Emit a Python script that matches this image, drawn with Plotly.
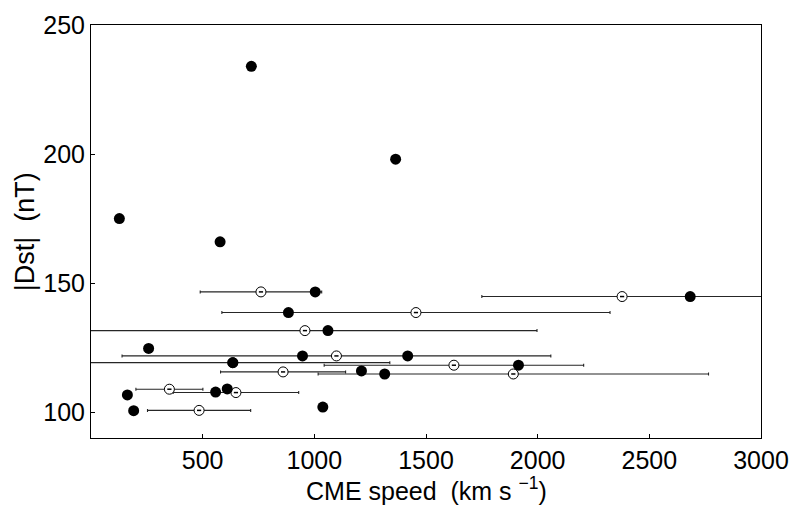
import plotly.graph_objects as go

# Filled points: observed CME speed vs |Dst|
filled_speed = [718, 1364, 127, 578, 1004, 884, 1061, 258, 947, 1418,
                635, 1914, 1211, 1315, 2683, 163, 558, 610, 191, 1038]
filled_dst = [234, 198, 175, 166, 146.6, 138.6, 131.6, 124.7, 121.8, 121.8,
              119.2, 118.2, 116.0, 114.8, 144.8, 106.7, 107.8, 109.0, 100.6, 102.0]

# Open points: estimated speed with error
open_speed = [761, 1455, 958, 1099, 635, 1625, 860, 1891, 2378, 351, 649, 484]
open_dst = [146.6, 138.6, 131.6, 121.8, 119.2, 118.2, 115.6, 114.8, 144.8, 108.9, 107.6, 100.7]
open_err = [272, 869, 1039, 960, 703, 581, 280, 874, 628, 150, 281, 231]

x_ticks = [500, 1000, 1500, 2000, 2500, 3000]
y_ticks = [100, 150, 200, 250]

FONT = "Liberation Sans, Arial, Helvetica, sans-serif"

fig = go.Figure()

fig.add_trace(go.Scatter(
    x=open_speed, y=open_dst, mode="markers",
    marker=dict(symbol="circle", size=10, color="white",
                line=dict(color="black", width=1)),
    error_x=dict(type="data", symmetric=True, array=open_err,
                 color="#262626", thickness=1.1, width=1.5),
    showlegend=False, hoverinfo="x+y",
))
fig.add_trace(go.Scatter(
    x=open_speed, y=open_dst, mode="markers",
    marker=dict(symbol="line-ew", size=3, color="black",
                line=dict(color="black", width=1.5)),
    showlegend=False, hoverinfo="skip",
))
fig.add_trace(go.Scatter(
    x=filled_speed, y=filled_dst, mode="markers",
    marker=dict(symbol="circle", size=11, color="black",
                line=dict(width=0)),
    showlegend=False, hoverinfo="x+y",
))

fig.update_layout(
    width=796, height=505,
    margin=dict(l=91, r=35, t=25, b=67),
    paper_bgcolor="white", plot_bgcolor="white",
    font=dict(family=FONT, size=25, color="black"),
    xaxis=dict(
        range=[0, 3000], tickvals=x_ticks, automargin=False,
        ticks="inside", ticklen=4, tickcolor="black", tickwidth=1,
        showline=True, linecolor="black", linewidth=1, mirror=True,
        showgrid=False, zeroline=False,
        tickfont=dict(size=25),
    ),
    yaxis=dict(
        range=[90, 250], tickvals=y_ticks, automargin=False,
        ticks="inside", ticklen=4, tickcolor="black", tickwidth=1,
        showline=True, linecolor="black", linewidth=1, mirror=True,
        showgrid=False, zeroline=False,
        tickfont=dict(size=25),
    ),
    annotations=[
        dict(text="|Dst|  (nT)", textangle=-90, xref="paper", yref="paper",
             x=-0.099, y=0.5, xanchor="center", yanchor="middle",
             showarrow=False, font=dict(size=27, family=FONT)),
        dict(text="CME speed  (km s <sup>\u22121</sup>)", xref="paper", yref="paper",
             x=0.5, y=-0.123, xanchor="center", yanchor="middle",
             showarrow=False, borderpad=0, font=dict(size=25, family=FONT)),
    ],
)

fig.write_html(
    "out.html",
    config={"displayModeBar": False},
    post_script="document.body.style.margin='0';document.body.style.overflow='hidden';",
)
